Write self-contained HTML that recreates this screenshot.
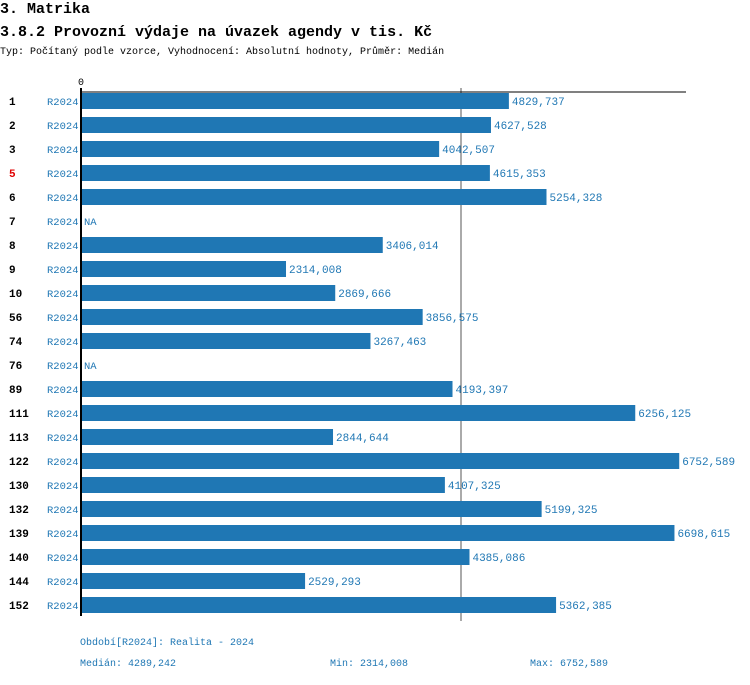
<!DOCTYPE html>
<html><head><meta charset="utf-8"><style>
body{margin:0;background:#fff;width:750px;height:680px;overflow:hidden;font-family:"Liberation Mono","DejaVu Sans Mono",monospace}
</style></head><body>
<svg id="c" width="750" height="680" xmlns="http://www.w3.org/2000/svg" font-family="Liberation Mono, DejaVu Sans Mono, monospace">
<text x="0" y="13" font-size="15" font-weight="bold">3. Matrika</text>
<text x="0" y="36" font-size="15" font-weight="bold">3.8.2 Provozní výdaje na úvazek agendy v tis. Kč</text>
<text x="0" y="54" font-size="10">Typ: Počítaný podle vzorce, Vyhodnocení: Absolutní hodnoty, Průměr: Medián</text>
<text x="78" y="85" font-size="10">0</text>
<line id="med" y1="88" y2="621" stroke="#555" stroke-width="1"/>
<g id="bars"></g>
<line x1="80" y1="92" x2="686" y2="92" stroke="#000" stroke-width="1"/>
<line x1="81" y1="88" x2="81" y2="616" stroke="#000" stroke-width="2"/>
<text x="80" y="645" font-size="10" fill="#1f77b4">Období[R2024]: Realita - 2024</text>
<text x="80" y="666" font-size="10" fill="#1f77b4">Medián: 4289,242</text>
<text x="330" y="666" font-size="10" fill="#1f77b4">Min: 2314,008</text>
<text x="530" y="666" font-size="10" fill="#1f77b4">Max: 6752,589</text>
</svg>
<script>
const categories=["1","2","3","5","6","7","8","9","10","56","74","76","89","111","113","122","130","132","139","140","144","152"];
const values=[4829.737,4627.528,4042.507,4615.353,5254.328,null,3406.014,2314.008,2869.666,3856.575,3267.463,null,4193.397,6256.125,2844.644,6752.589,4107.325,5199.325,6698.615,4385.086,2529.293,5362.385];
const median=4289.242;
const NS="http://www.w3.org/2000/svg";
const x0=81, scale=(461-81)/4289.242;
const xs=v=>x0+v*scale;
const ys=i=>101+i*24;
const g=document.getElementById('bars');
function mk(t,a){const e=document.createElementNS(NS,t);for(const k in a)e.setAttribute(k,a[k]);return e;}
document.getElementById('med').setAttribute('x1',xs(median));
document.getElementById('med').setAttribute('x2',xs(median));
categories.forEach((c,i)=>{
  const y=ys(i);
  const l=mk('text',{x:9,y:y+4,'font-size':11,'font-weight':'bold',fill:c==="5"?"#e00000":"#000"});
  l.textContent=c;
  
  
  g.appendChild(l);
  const p=mk('text',{x:47,y:y+4,'font-size':10.5,fill:'#1f77b4'});
  p.textContent='R2024';
  
  
  g.appendChild(p);
  const v=values[i];
  if(v==null){
    const n=mk('text',{x:84,y:y+4,'font-size':10.5,fill:'#1f77b4'});
    n.textContent='NA';
    
    
    g.appendChild(n);return;
  }
  const r=mk('rect',{x:x0,y:y-8,width:xs(v)-x0,height:16,fill:'#1f77b4'});
  
  
  g.appendChild(r);
  const t=mk('text',{x:xs(v)+3,y:y+4,'font-size':11,fill:'#1f77b4'});
  t.textContent=v.toFixed(3).replace('.',',');
  
  
  g.appendChild(t);
});
</script>
</body></html>
